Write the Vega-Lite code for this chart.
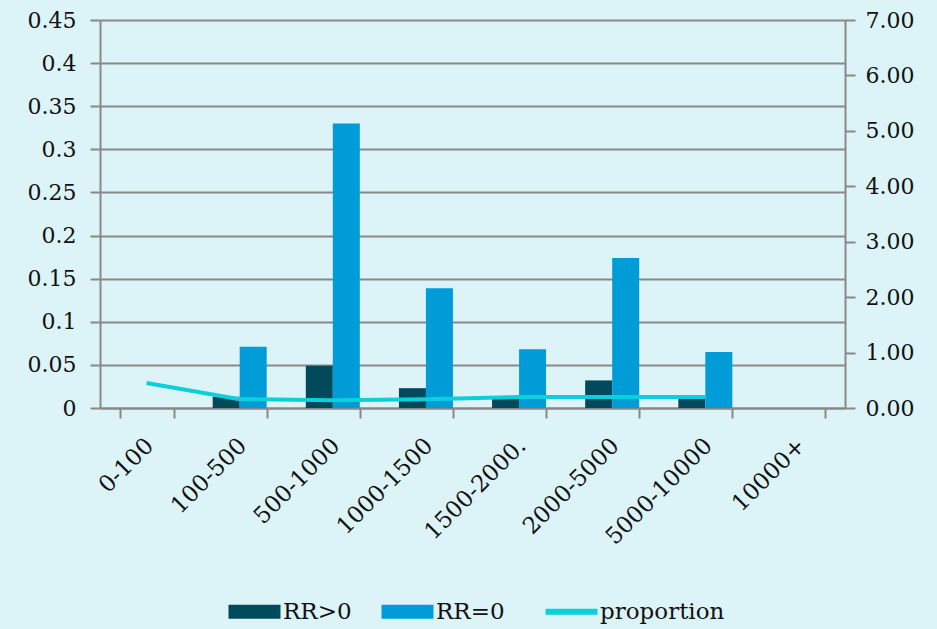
{
  "$schema": "https://vega.github.io/schema/vega-lite/v6.json",
  "width": 745,
  "height": 388,
  "autosize": "none",
  "padding": {"left": 100, "top": 20, "right": 92, "bottom": 221},
  "background": "#DCF4F8",
  "config": {
    "view": {"stroke": null},
    "font": "DejaVu Serif",
    "axis": {"labelFont": "DejaVu Serif", "labelColor": "#111", "labelFontSize": 22, "domainColor": "#888888", "domainWidth": 2, "tickColor": "#888888", "tickWidth": 2, "tickSize": 10, "gridColor": "#888888", "gridWidth": 2, "title": null},
    "legend": {
      "orient": "none", "legendX": 127, "legendY": 580, "direction": "horizontal", "title": null,
      "labelFont": "DejaVu Serif", "labelFontSize": 23, "labelColor": "#111",
      "symbolSize": 2704, "symbolType": "M-1,-0.27H1V0.27H-1Z", "symbolStrokeWidth": 0, "symbolOpacity": 1,
      "symbolOffset": 16, "labelOffset": 17, "columnPadding": 28
    }
  },
  "datasets": {
    "bars": [
      {"cat": "0-100", "series": "RR>0", "value": 0},
      {"cat": "0-100", "series": "RR=0", "value": 0},
      {"cat": "100-500", "series": "RR>0", "value": 0.013},
      {"cat": "100-500", "series": "RR=0", "value": 0.071},
      {"cat": "500-1000", "series": "RR>0", "value": 0.049},
      {"cat": "500-1000", "series": "RR=0", "value": 0.330},
      {"cat": "1000-1500", "series": "RR>0", "value": 0.023},
      {"cat": "1000-1500", "series": "RR=0", "value": 0.139},
      {"cat": "1500-2000.", "series": "RR>0", "value": 0.013},
      {"cat": "1500-2000.", "series": "RR=0", "value": 0.068},
      {"cat": "2000-5000", "series": "RR>0", "value": 0.032},
      {"cat": "2000-5000", "series": "RR=0", "value": 0.174},
      {"cat": "5000-10000", "series": "RR>0", "value": 0.012},
      {"cat": "5000-10000", "series": "RR=0", "value": 0.065},
      {"cat": "10000+", "series": "RR>0", "value": 0},
      {"cat": "10000+", "series": "RR=0", "value": 0}
    ],
    "prop": [
      {"cat": "0-100", "series": "proportion", "value": 0.45},
      {"cat": "100-500", "series": "proportion", "value": 0.16},
      {"cat": "500-1000", "series": "proportion", "value": 0.14},
      {"cat": "1000-1500", "series": "proportion", "value": 0.16},
      {"cat": "1500-2000.", "series": "proportion", "value": 0.2},
      {"cat": "2000-5000", "series": "proportion", "value": 0.2},
      {"cat": "5000-10000", "series": "proportion", "value": 0.2}
    ]
  },
  "encoding": {
    "x": {
      "field": "cat", "type": "nominal", "sort": null,
      "scale": {"domain": ["0-100", "100-500", "500-1000", "1000-1500", "1500-2000.", "2000-5000", "5000-10000", "10000+"], "paddingInner": 0.42, "paddingOuter": 0.21},
      "axis": {"labelAngle": -45, "labelPadding": 16, "labelOffset": -5, "tickBand": "extent", "labelFontSize": 23, "grid": false}
    }
  },
  "layer": [
    {
      "data": {"name": "bars"},
      "mark": {"type": "bar"},
      "encoding": {
        "xOffset": {"field": "series", "type": "nominal", "sort": ["RR>0", "RR=0"], "scale": {"domain": ["RR>0", "RR=0"]}},
        "y": {
          "field": "value", "type": "quantitative",
          "scale": {"domain": [0, 0.45], "nice": false},
          "axis": {"orient": "left", "values": [0, 0.05, 0.1, 0.15, 0.2, 0.25, 0.3, 0.35, 0.4, 0.45], "format": ".2~f", "grid": true, "labelPadding": 14}
        },
        "color": {
          "field": "series", "type": "nominal",
          "scale": {"domain": ["RR>0", "RR=0", "proportion"], "range": ["#014A5C", "#009CD8", "#0DCFDB"]},
          "legend": {
            "encode": {
              "symbols": {"update": {
                "shape": {"signal": "datum.value === 'proportion' ? 'stroke' : 'M-1,-0.27H1V0.27H-1Z'"},
                "strokeWidth": {"signal": "datum.value === 'proportion' ? 6 : 0"},
                "stroke": {"signal": "datum.value === 'proportion' ? '#0DCFDB' : null"}
              }}
            }
          }
        }
      }
    },
    {
      "data": {"name": "prop"},
      "mark": {"type": "line", "strokeWidth": 4, "color": "#0DCFDB"},
      "encoding": {
        "y": {
          "field": "value", "type": "quantitative",
          "scale": {"domain": [0, 7], "nice": false},
          "axis": {"orient": "right", "values": [0, 1, 2, 3, 4, 5, 6, 7], "format": ".2f", "grid": false, "labelPadding": 10}
        },
        "color": {"field": "series", "type": "nominal"}
      }
    }
  ],
  "resolve": {"scale": {"y": "independent"}}
}
